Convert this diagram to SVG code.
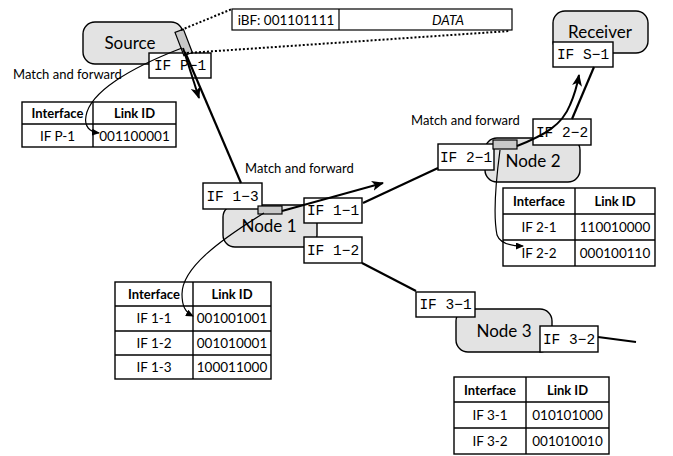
<svg xmlns="http://www.w3.org/2000/svg" width="673" height="456" viewBox="0 0 673 456">
  <style>
    .node { fill: #e3e3e3; stroke: #000; stroke-width: 1.4; }
    .port { fill: #c8c8c8; stroke: #000; stroke-width: 1.2; }
    .ifbox { fill: #fff; stroke: #000; stroke-width: 1.4; }
    .iftxt { font-family: "Liberation Mono", "DejaVu Sans Mono", monospace; font-size: 14.5px; fill: #000; }
    .nlabel { font-family: Lato, "Open Sans", sans-serif; font-size: 17px; fill: #000; }
    .note { font-family: Lato, "Open Sans", sans-serif; font-size: 13px; fill: #000; }
    .tbl { fill: #fff; stroke: #000; stroke-width: 1.4; }
    .rule { stroke: #000; stroke-width: 1.4; }
    .th { font-family: Lato, "Open Sans", sans-serif; font-size: 13px; font-weight: bold; text-anchor: middle; fill: #000; }
    .td { font-family: Lato, "Open Sans", sans-serif; font-size: 13.5px; text-anchor: middle; fill: #000; }
    .link { stroke: #000; stroke-width: 2.2; fill: none; }
    .fwd { stroke: #000; stroke-width: 2; fill: none; marker-end: url(#ah); }
    .lookup { stroke: #000; stroke-width: 1.2; fill: none; marker-end: url(#ahs); }
    .dots { stroke: #000; stroke-width: 2; stroke-dasharray: 2 2; fill: none; }
  </style>
  <defs>
    <marker id="ah" markerUnits="userSpaceOnUse" markerWidth="12" markerHeight="10" refX="11" refY="5" orient="auto">
      <path d="M0,0 L12,5 L0,10 L3,5 z" fill="#000"/>
    </marker>
    <marker id="ahs" markerUnits="userSpaceOnUse" markerWidth="8" markerHeight="7" refX="7" refY="3.5" orient="auto">
      <path d="M0,0 L8,3.5 L0,7 z" fill="#000"/>
    </marker>
  </defs>

  <!-- packet header: iBF + payload -->
  <g id="packet">
    <rect x="232" y="9" width="280" height="21" fill="#fff" stroke="#000" stroke-width="1.2"/>
    <line x1="339" y1="9" x2="339" y2="30" stroke="#000" stroke-width="1.2"/>
    <text x="286" y="25" text-anchor="middle" font-family="Lato, 'Open Sans', sans-serif" font-size="13.5">iBF: 001101111</text>
    <text x="448" y="25" text-anchor="middle" font-family="Lato, 'Open Sans', sans-serif" font-size="13.5" font-style="italic">DATA</text>
  </g>

  <!-- nodes -->
  <g id="source">
    <rect class="node" x="83" y="22" width="100" height="42" rx="12"/>
    <text class="nlabel" x="130" y="49" text-anchor="middle" font-size="16">Source</text>
  </g>
  <g id="receiver">
    <rect class="node" x="553" y="11" width="95" height="42" rx="12"/>
    <text class="nlabel" x="600" y="38" text-anchor="middle">Receiver</text>
  </g>
  <g id="node1">
    <rect class="node" x="223" y="205" width="94" height="42" rx="12"/>
    <text class="nlabel" x="269" y="232" text-anchor="middle">Node 1</text>
  </g>
  <g id="node2">
    <rect class="node" x="485" y="138" width="95" height="44" rx="12"/>
    <text class="nlabel" x="533" y="167" text-anchor="middle">Node 2</text>
  </g>
  <g id="node3">
    <rect class="node" x="456" y="309" width="96" height="43" rx="12"/>
    <text class="nlabel" x="504" y="337" text-anchor="middle">Node 3</text>
  </g>

  <!-- interface ports -->
  <g id="port-p1">
    <rect class="ifbox" x="149" y="53" width="62" height="25"/>
    <text class="iftxt" x="180" y="70" text-anchor="middle">IF P−1</text>
    <rect class="port" x="179" y="30" width="9" height="25" transform="rotate(-21 183.5 42)"/>
  </g>
  <g id="port-s1">
    <rect class="ifbox" x="553" y="42" width="60" height="25"/>
    <text class="iftxt" x="583" y="59" text-anchor="middle">IF S−1</text>
  </g>
  <g id="port-13">
    <rect class="ifbox" x="203" y="183" width="59" height="26"/>
    <text class="iftxt" x="232.5" y="201" text-anchor="middle">IF 1−3</text>
    <rect class="port" x="258" y="206" width="24" height="8"/>
  </g>
  <g id="port-11">
    <rect class="ifbox" x="304" y="198" width="58" height="25"/>
    <text class="iftxt" x="333" y="215" text-anchor="middle">IF 1−1</text>
  </g>
  <g id="port-12">
    <rect class="ifbox" x="304" y="237" width="58" height="26"/>
    <text class="iftxt" x="333" y="255" text-anchor="middle">IF 1−2</text>
  </g>
  <g id="port-21">
    <rect class="ifbox" x="438" y="144" width="56" height="26"/>
    <text class="iftxt" x="466" y="162" text-anchor="middle">IF 2−1</text>
    <rect class="port" x="493" y="140" width="24" height="9"/>
  </g>
  <g id="port-22">
    <rect class="ifbox" x="533" y="119" width="58" height="26"/>
    <text class="iftxt" x="562" y="137" text-anchor="middle">IF 2−2</text>
  </g>
  <g id="port-31">
    <rect class="ifbox" x="416" y="292" width="59" height="25"/>
    <text class="iftxt" x="445.5" y="309" text-anchor="middle">IF 3−1</text>
  </g>
  <g id="port-32">
    <rect class="ifbox" x="540" y="326" width="58" height="26"/>
    <text class="iftxt" x="569" y="344" text-anchor="middle">IF 3−2</text>
  </g>

  <!-- "Match and forward" notes -->
  <text class="note" x="13" y="79">Match and forward</text>
  <text class="note" x="245" y="173">Match and forward</text>
  <text class="note" x="411" y="125">Match and forward</text>

  <!-- forwarding tables -->
  <g id="table-source">
    <rect class="tbl" x="22" y="102" width="154" height="45"/>
    <line class="rule" x1="22" y1="124" x2="176" y2="124"/>
    <line class="rule" x1="93" y1="102" x2="93" y2="147"/>
    <text class="th" x="57.5" y="118">Interface</text>
    <text class="th" x="134.5" y="118">Link ID</text>
    <text class="td" x="57.5" y="141">IF P-1</text>
    <text class="td" x="134.5" y="141">001100001</text>
  </g>
  <g id="table-node1">
    <rect class="tbl" x="115" y="282" width="156" height="97"/>
    <line class="rule" x1="115" y1="306" x2="271" y2="306"/>
    <line class="rule" x1="115" y1="331" x2="271" y2="331"/>
    <line class="rule" x1="115" y1="355" x2="271" y2="355"/>
    <line class="rule" x1="193" y1="282" x2="193" y2="379"/>
    <text class="th" x="154" y="299">Interface</text>
    <text class="th" x="232" y="299">Link ID</text>
    <text class="td" x="154" y="323">IF 1-1</text>
    <text class="td" x="232" y="323">001001001</text>
    <text class="td" x="154" y="348">IF 1-2</text>
    <text class="td" x="232" y="348">001010001</text>
    <text class="td" x="154" y="372">IF 1-3</text>
    <text class="td" x="232" y="372">100011000</text>
  </g>
  <g id="table-node2">
    <rect class="tbl" x="503" y="188" width="152" height="78"/>
    <line class="rule" x1="503" y1="214" x2="655" y2="214"/>
    <line class="rule" x1="503" y1="240" x2="655" y2="240"/>
    <line class="rule" x1="575" y1="188" x2="575" y2="266"/>
    <text class="th" x="539" y="206">Interface</text>
    <text class="th" x="615" y="206">Link ID</text>
    <text class="td" x="539" y="232">IF 2-1</text>
    <text class="td" x="615" y="232">110010000</text>
    <text class="td" x="539" y="258">IF 2-2</text>
    <text class="td" x="615" y="258">000100110</text>
  </g>
  <g id="table-node3">
    <rect class="tbl" x="454" y="377" width="155" height="77"/>
    <line class="rule" x1="454" y1="402" x2="609" y2="402"/>
    <line class="rule" x1="454" y1="428" x2="609" y2="428"/>
    <line class="rule" x1="526" y1="377" x2="526" y2="454"/>
    <text class="th" x="490" y="395">Interface</text>
    <text class="th" x="567.5" y="395">Link ID</text>
    <text class="td" x="490" y="420">IF 3-1</text>
    <text class="td" x="567.5" y="420">010101000</text>
    <text class="td" x="490" y="446">IF 3-2</text>
    <text class="td" x="567.5" y="446">001010010</text>
  </g>

  <!-- links, forwarding arrows and table lookups, drawn on top -->
  <g id="connectors">
    <line class="link" x1="185" y1="52" x2="241" y2="183"/>
    <line class="link" x1="363" y1="203" x2="438" y2="168"/>
    <line class="link" x1="362" y1="263" x2="416" y2="291"/>
    <line class="link" x1="572" y1="119" x2="594" y2="67"/>
    <line class="link" x1="598" y1="337" x2="636" y2="342"/>
    <line class="fwd" x1="183" y1="48" x2="199" y2="98"/>
    <line class="fwd" x1="282" y1="211" x2="383" y2="183"/>
    <path class="fwd" d="M517,146 C545,135 562,125 570,105 C574,96 577,86 579,75"/>
    <path class="lookup" d="M182,48 C130,68 90,92 86,116 C84,127 90,132 99,133"/>
    <path class="lookup" d="M264,213 C220,240 182,268 182,294 C182,306 185,312 193,316"/>
    <path class="lookup" d="M500,150 C496,180 493,215 497,235 C500,243 510,246 523,246"/>
    <path class="dots" d="M181,30 L232,9"/>
    <path class="dots" d="M187,53 L510,31"/>
  </g>
</svg>
